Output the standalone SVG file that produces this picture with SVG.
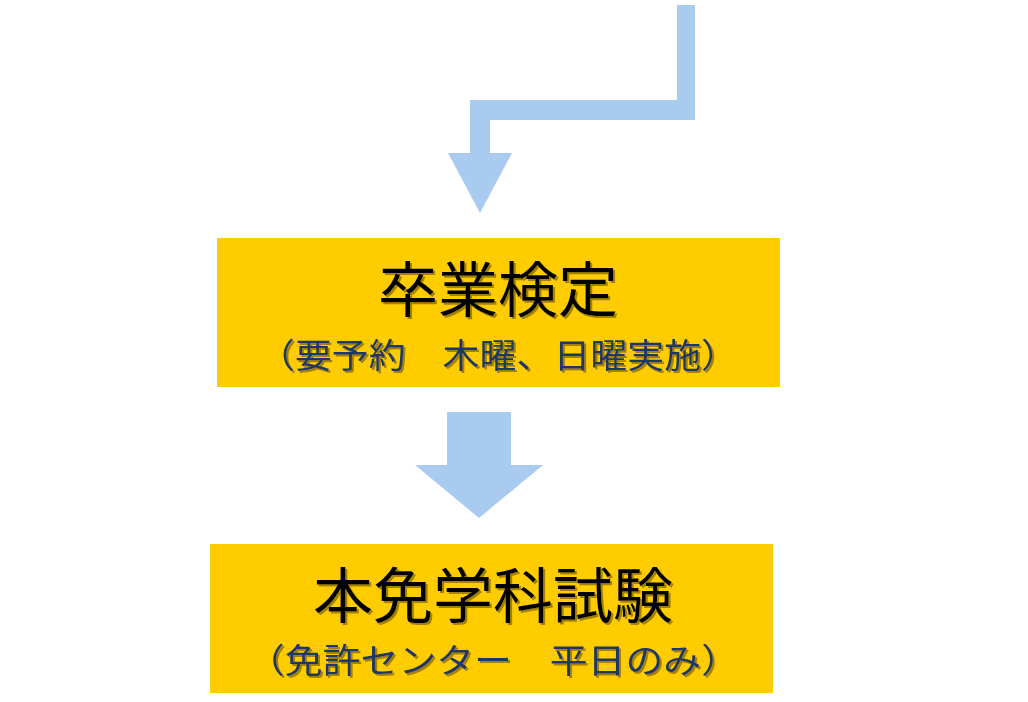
<svg xmlns="http://www.w3.org/2000/svg" width="1028" height="702" viewBox="0 0 1028 702">
<defs>
<filter id="sh" x="-5%" y="-5%" width="110%" height="120%"><feDropShadow dx="2" dy="2" stdDeviation="0.6" flood-color="#9a7a00" flood-opacity="0.9"/></filter>
</defs>
<style>
.box{fill:#FFCC00}
.arr{fill:#A9CBF0}
.t{font-family:"Noto Sans CJK JP",sans-serif;font-size:60px;fill:#000;text-anchor:middle;filter:url(#sh)}
.s{font-family:"Noto Sans CJK JP",sans-serif;font-size:34px;fill:#1F3864;filter:url(#sh)}
</style>
<rect width="1028" height="702" fill="#fff"/>
<g id="connectors">
<polygon class="arr" points="677,5 695,5 695,120 490,120 490,153 512,153 480,213 448,153 470,153 470,100 677,100"/>
<polygon class="arr" points="447,412 511,412 511,465 543,465 479,518 415,465 447,465"/>
</g>
<g id="node1">
<rect class="box" x="217" y="238" width="563" height="149"/>
<text class="t" x="498" y="312">卒業検定</text>
<text class="s" x="258" y="368" textLength="480" lengthAdjust="spacingAndGlyphs">（要予約　木曜、日曜実施）</text>
</g>
<g id="node2">
<rect class="box" x="210" y="544" width="563" height="149"/>
<text class="t" x="493" y="618">本免学科試験</text>
<text class="s" x="247" y="673" textLength="492" lengthAdjust="spacingAndGlyphs">（免許センター　平日のみ）</text>
</g>
</svg>
